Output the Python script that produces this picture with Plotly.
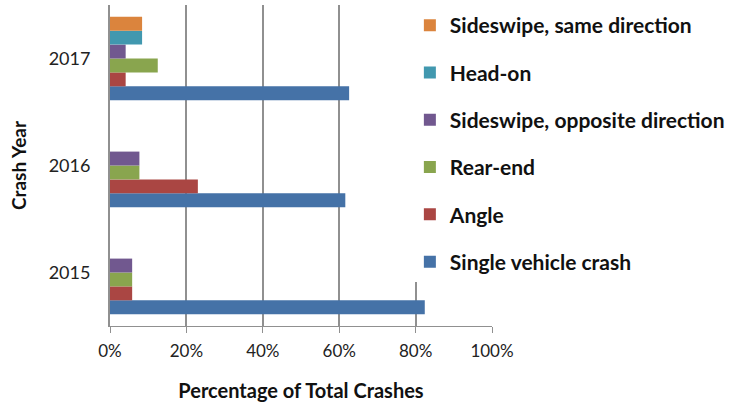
import plotly.graph_objects as go

years = ["2015", "2016", "2017"]
series_names = ["Single vehicle crash", "Angle", "Rear-end",
                "Sideswipe, opposite direction", "Head-on", "Sideswipe, same direction"]
single_vehicle = [0.824, 0.616, 0.626]
angle = [0.058, 0.23, 0.041]
rear_end = [0.058, 0.077, 0.125]
sideswipe_opposite = [0.058, 0.077, 0.041]
head_on = [0, 0, 0.084]
sideswipe_same = [0, 0, 0.084]
colors = ["#4572A7", "#AA4643", "#89A54E", "#71588F", "#4198AF", "#DB843D"]

values = [single_vehicle, angle, rear_end, sideswipe_opposite, head_on, sideswipe_same]

fig = go.Figure()
for i, (name, vals, col) in enumerate(zip(series_names, values, colors)):
    fig.add_trace(go.Bar(
        y=years, x=vals, name=name, orientation="h",
        marker=dict(color=col, line=dict(width=0)),
        legendgroup=name, legendrank=len(series_names) - i,
    ))

fig.update_layout(
    width=751, height=402,
    barmode="group", bargap=0.22, bargroupgap=0,
    plot_bgcolor="white", paper_bgcolor="white",
    margin=dict(l=110, r=259, t=5, b=76),
    font=dict(family="Lato", color="#222222"),
    showlegend=True,
    legend=dict(
        traceorder="grouped", tracegroupgap=17,
        x=0.785, xanchor="left", y=1.0, yanchor="top",
        bgcolor="white", font=dict(size=21, color="#111111", weight="bold"),
    ),
    xaxis=dict(
        range=[0, 1], tickformat=".0%", dtick=0.2, automargin=False,
        showgrid=True, gridcolor="#909090", gridwidth=2,
        showline=True, linecolor="#909090", linewidth=1,
        ticks="outside", tickcolor="#909090", ticklen=6,
        tickfont=dict(size=17), zeroline=False, ticklabelstandoff=4,
        title=dict(text="Percentage of Total Crashes", standoff=24,
                   font=dict(size=20, weight="bold", color="#111111")),
    ),
    yaxis=dict(
        range=[-0.5, 2.5], automargin=False,
        showline=True, linecolor="#909090", linewidth=2,
        tickfont=dict(size=18), ticks="", ticklabelstandoff=14,
        title=dict(text="Crash Year", standoff=17,
                   font=dict(size=19, weight="bold", color="#111111")),
    ),
)

# page has a default 8px body margin; remove it so the figure sits at 0,0
fig.write_html("out.html", config={"displayModeBar": False},
               post_script="document.body.style.margin='0';")
